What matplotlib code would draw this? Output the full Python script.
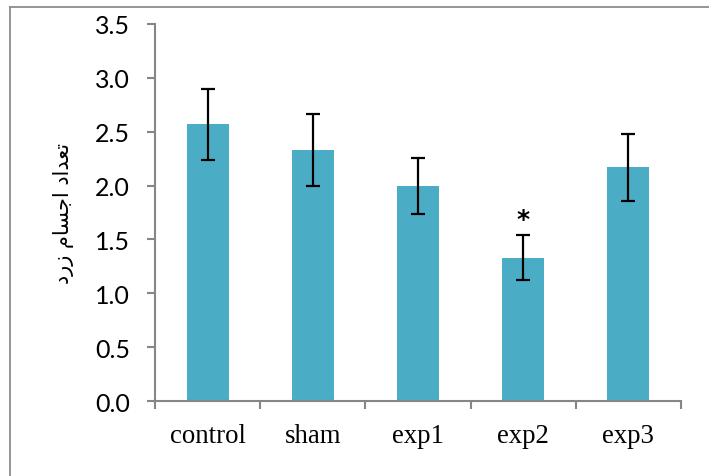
import matplotlib
matplotlib.use("Agg")
import matplotlib.pyplot as plt
from matplotlib.lines import Line2D
import numpy as np

categories = ["control", "sham", "exp1", "exp2", "exp3"]
values = [2.57, 2.33, 2.00, 1.33, 2.17]
errors = [0.33, 0.33, 0.26, 0.21, 0.31]
y_ticks = [0.0, 0.5, 1.0, 1.5, 2.0, 2.5, 3.0, 3.5]
star_index = 3
star_y = 1.69

# Persian label "تعداد اجسام زرد" in presentation forms, visual order
ylabel = "\uFEA9\uFEAD\uFEAF \uFEE1\uFE8E\uFEB4\uFE9F\uFE8D \uFEA9\uFE8D\uFEAA\uFECC\uFE97"

fig = plt.figure(figsize=(7.09, 4.77), dpi=100)
ax = fig.add_axes([155/709, 1-402/477, (681-155)/709, (402-25)/477])

x = np.arange(len(categories))
ax.bar(x, values, width=0.4, color="#4BACC6", zorder=2)
ax.errorbar(x, values, yerr=errors, fmt="none", ecolor="black", elinewidth=1.6,
            capsize=4.7, capthick=1.6, zorder=3)
ax.text(star_index, star_y, "*", ha="center", va="center", fontsize=18,
        family="DejaVu Sans", fontweight="bold", color="black")

ax.set_xlim(-0.5, len(categories) - 0.5)
ax.set_ylim(0, 3.5)
ax.set_yticks(y_ticks)
ax.set_yticklabels([f"{v:.1f}" for v in y_ticks], family="Lato", fontsize=18)
ax.set_xticks(x)
ax.set_xticklabels(categories, family="Liberation Serif", fontsize=19.3)
ax.set_xticks(np.arange(len(categories) + 1) - 0.5, minor=True)
ax.tick_params(axis="x", which="major", length=0, pad=16)
ax.tick_params(axis="x", which="minor", length=6, width=1.5, color="#868686", direction="out")
ax.tick_params(axis="y", length=6, width=1.5, color="#868686", direction="out", pad=12)

for s in ["top", "right"]:
    ax.spines[s].set_visible(False)
for s in ["left", "bottom"]:
    ax.spines[s].set_color("#868686")
    ax.spines[s].set_linewidth(1.5)

fig.text(64/709, 1-213/477, ylabel, rotation=90, ha="center", va="center",
         fontsize=15, family="DejaVu Sans")

# outer frame (top and left)
fig.add_artist(Line2D([10/709, 1.0], [1-8/477, 1-8/477], color="#8c8c8c", lw=1.3,
                      transform=fig.transFigure))
fig.add_artist(Line2D([10/709, 10/709], [0.0, 1-8/477], color="#8c8c8c", lw=1.3,
                      transform=fig.transFigure))

fig.savefig("out.png", dpi=100)
